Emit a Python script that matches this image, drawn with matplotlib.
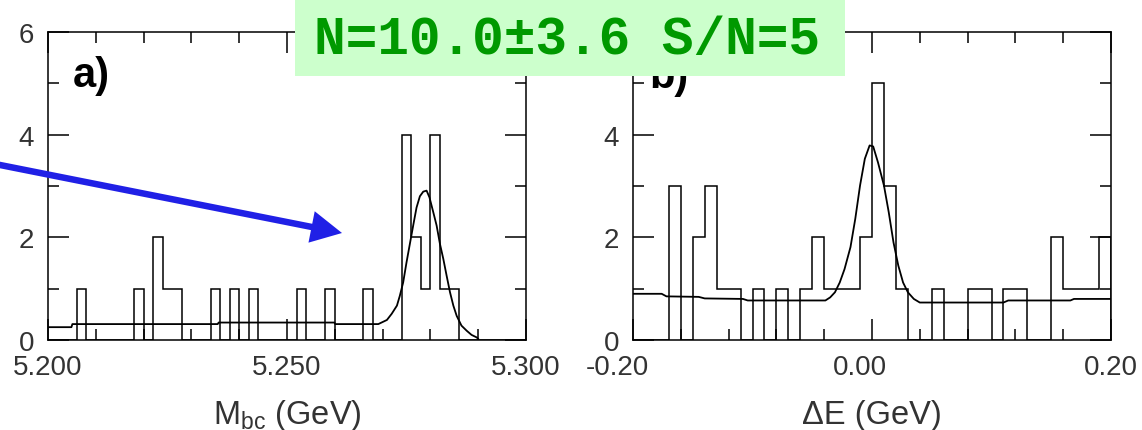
import numpy as np
import matplotlib
matplotlib.use('Agg')
import matplotlib.pyplot as plt
from matplotlib.ticker import MultipleLocator, FormatStrFormatter
from matplotlib.patches import Rectangle, FancyArrow
from matplotlib.transforms import ScaledTranslation

plt.rcParams['font.family'] = 'Liberation Sans'
plt.rcParams['mathtext.fontset'] = 'custom'
plt.rcParams['mathtext.rm'] = 'Liberation Sans'

# a) Mbc histogram, 2 MeV bins from 5.200 to 5.300 GeV
mbc_range = (5.200, 5.300)
mbc_counts = [0, 0, 0, 1, 0, 0, 0, 0, 0, 1,
              0, 2, 1, 1, 0, 0, 0, 1, 0, 1,
              0, 1, 0, 0, 0, 0, 1, 0, 0, 1,
              0, 0, 0, 1, 0, 0, 0, 4, 2, 1,
              4, 1, 1, 0, 0, 0, 0, 0, 0, 0]
# fitted curve
mbc_fit_x = [5.2000, 5.2049, 5.2051, 5.2355, 5.2357, 5.2599, 5.2601, 5.2691,
             5.2709, 5.2719, 5.2730, 5.2736, 5.2743, 5.2750, 5.2757, 5.2764,
             5.2771, 5.2778, 5.2785, 5.2792, 5.2798, 5.2806, 5.2813, 5.2820,
             5.2827, 5.2834, 5.2841, 5.2848, 5.2855, 5.2865, 5.2876, 5.2886,
             5.2897, 5.2900]
mbc_fit_y = [0.25, 0.25, 0.31, 0.31, 0.34, 0.34, 0.31, 0.31,
             0.39, 0.51, 0.67, 0.86, 1.12, 1.51, 1.87, 2.23,
             2.58, 2.80, 2.89, 2.91, 2.78, 2.49, 2.23, 1.87,
             1.58, 1.25, 0.93, 0.67, 0.47, 0.28, 0.18, 0.10,
             0.05, 0.02]

# b) Delta E histogram, 10 MeV bins from -0.20 to 0.20 GeV
de_range = (-0.20, 0.20)
de_counts = [0, 0, 0, 3, 0, 2, 3, 1, 1, 0,
             1, 0, 1, 0, 1, 2, 1, 1, 1, 2,
             5, 3, 1, 0, 0, 1, 0, 0, 1, 1,
             0, 1, 1, 0, 0, 2, 1, 1, 1, 2]
de_fit_x = [-0.200, -0.176, -0.172, -0.145, -0.140, -0.108, -0.104, -0.039,
            -0.035, -0.031, -0.027, -0.023, -0.018, -0.014, -0.010, -0.006,
            -0.002, 0.001, 0.005, 0.010, 0.014, 0.018, 0.022, 0.026,
            0.030, 0.035, 0.040, 0.110, 0.114, 0.166, 0.169, 0.200]
de_fit_y = [0.90, 0.90, 0.85, 0.84, 0.81, 0.80, 0.77, 0.77,
            0.83, 0.93, 1.12, 1.38, 1.81, 2.36, 3.01, 3.53,
            3.79, 3.77, 3.46, 3.01, 2.49, 1.90, 1.45, 1.12,
            0.93, 0.80, 0.73, 0.73, 0.77, 0.77, 0.80, 0.80]

W, H = 1142, 431
fig = plt.figure(figsize=(W / 100, H / 100), dpi=100)


def rect(l, t, r, b):
    return [l / W, 1 - b / H, (r - l) / W, (b - t) / H]


def style(ax, lo, hi, ticks, labels, minor, xlabel):
    ax.set_xlim(lo, hi)
    ax.set_ylim(0, 6)
    ax.set_xticks(ticks, labels=labels)
    ax.xaxis.set_minor_locator(MultipleLocator(minor))
    ax.yaxis.set_major_locator(MultipleLocator(2))
    ax.yaxis.set_minor_locator(MultipleLocator(1))
    ax.yaxis.set_major_formatter(FormatStrFormatter('%d'))
    ax.tick_params(which='both', direction='in', top=True, right=True,
                   width=1.1, labelsize=20, labelcolor='#333333', pad=10)
    ax.tick_params(which='major', length=15)
    ax.tick_params(which='minor', length=8)
    for s in ax.spines.values():
        s.set_linewidth(1.1)
    ax.set_xlabel(xlabel, fontsize=23.5, color='#333333', va='baseline')
    ax.xaxis.set_label_coords(0.5, -0.268)


ax1 = fig.add_axes(rect(48, 33, 526, 341))
ax2 = fig.add_axes(rect(633, 33, 1111, 341))

mbc_edges = np.linspace(mbc_range[0], mbc_range[1], len(mbc_counts) + 1)
ax1.stairs(mbc_counts, mbc_edges, color='k', lw=1.1)
ax1.plot(mbc_fit_x, mbc_fit_y, color='k', lw=1.3)
style(ax1, 5.2, 5.3, [5.2, 5.25, 5.3], ['5.200', '5.250', '5.300'], 0.01,
      r'M$_{\rm bc}$ (GeV)')

de_edges = np.linspace(de_range[0], de_range[1], len(de_counts) + 1)
ax2.stairs(de_counts, de_edges, color='k', lw=1.1)
ax2.plot(de_fit_x, de_fit_y, color='k', lw=1.3)
style(ax2, -0.2, 0.2, [-0.2, 0.0, 0.2], ['-0.20', '0.00', '0.20'], 0.04,
      '\u0394E (GeV)')
# the original labels sit a bit left of their ticks
for lab, dx in zip(ax2.get_xticklabels(), [-16, -12, 0]):
    lab.set_transform(lab.get_transform() + ScaledTranslation(dx / 100, 0, fig.dpi_scale_trans))

# panel tags
fig.text(0.73, (H - 87) / 100, 'a)', transform=fig.dpi_scale_trans,
         fontsize=30, fontweight='bold', va='baseline')
fig.text(6.49, (H - 88) / 100, 'b)', transform=fig.dpi_scale_trans,
         fontsize=30, fontweight='bold', va='baseline')

# blue arrow
arrow = FancyArrow(-0.1, (H - 164) / 100, 3.52, -0.70, width=0.065,
                   head_width=0.32, head_length=0.31, length_includes_head=True,
                   color='#2020e6', lw=0, transform=fig.dpi_scale_trans, zorder=5)
fig.add_artist(arrow)

# green banner
box = Rectangle((2.95, (H - 77) / 100), 5.50, 0.9, transform=fig.dpi_scale_trans,
                facecolor='#ccffcc', edgecolor='none', zorder=10)
fig.add_artist(box)
fig.text(3.14, (H - 54) / 100, 'N=10.0\u00b13.6 S/N=5', transform=fig.dpi_scale_trans,
         fontfamily='Liberation Mono', fontweight='bold', fontsize=38,
         color='#009900', va='baseline', zorder=11)

fig.savefig('out.png', dpi=100)
